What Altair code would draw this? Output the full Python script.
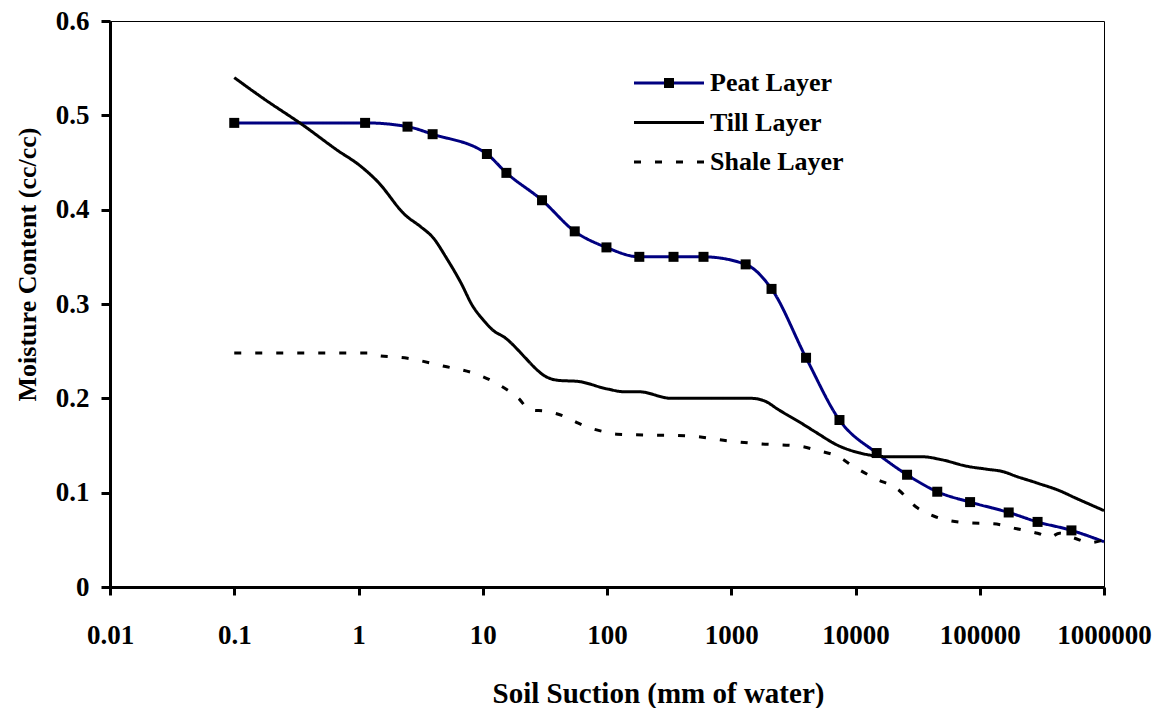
import altair as alt
import pandas as pd

# ---- data ----
peat_x = [0.1, 1.13, 2.48, 3.95, 10.8, 15.5, 30, 55, 99, 182, 343, 598, 1306, 2110,
          4000, 7430, 14800, 26000, 45500, 83600, 171000, 292000, 547000, 1000000]
peat_y = [0.492, 0.492, 0.488, 0.480, 0.459, 0.439, 0.410, 0.377, 0.360, 0.350, 0.350,
          0.350, 0.342, 0.316, 0.243, 0.177, 0.142, 0.119, 0.101, 0.090, 0.079, 0.069,
          0.060, 0.048]

till_x = [0.1, 0.171, 0.363, 0.675, 1.02, 1.42, 2.39, 3.16, 4.0, 5.09, 6.7, 8.2, 10.1,
          12, 15.2, 22, 25.5, 31.3, 41, 58, 100, 138, 180, 330, 1450, 1870, 2400, 3630,
          4800, 7240, 10900, 19000, 35000, 49000, 79000, 112000, 157000, 190000,
          293000, 440000, 575000, 1000000]
till_y = [0.540, 0.518, 0.489, 0.463, 0.447, 0.430, 0.394, 0.382, 0.370, 0.349, 0.322,
          0.299, 0.283, 0.2725, 0.264, 0.243, 0.234, 0.224, 0.219, 0.218, 0.210, 0.207,
          0.207, 0.200, 0.200, 0.197, 0.188, 0.174, 0.164, 0.150, 0.142, 0.138, 0.138,
          0.135, 0.128, 0.125, 0.122, 0.118, 0.110, 0.102, 0.095, 0.081]

shale_x = [0.1, 1.25, 1.34, 2.48, 4.9, 8.5, 13.7, 19.4, 23.8, 33.5, 47, 58, 68, 92, 120,
           470, 940, 1600, 3670, 4850, 7300, 9600, 14400, 21700, 30600, 43000, 80000,
           129000, 194000, 292000, 370000, 437000, 575000, 760000, 1000000]
shale_y = [0.248, 0.248, 0.246, 0.2425, 0.234, 0.2266, 0.214, 0.200, 0.188, 0.186, 0.180,
           0.174, 0.170, 0.165, 0.162, 0.160, 0.155, 0.152, 0.149, 0.145, 0.138, 0.128,
           0.115, 0.104, 0.085, 0.075, 0.068, 0.067, 0.062, 0.057, 0.053, 0.057, 0.052,
           0.047, 0.050]

series_names = ["Peat Layer", "Till Layer", "Shale Layer"]
series_colors = ["#000080", "#000000", "#000000"]
series_dashes = [[1, 0], [1, 0], [7, 14]]
x_ticks = [0.01, 0.1, 1, 10, 100, 1000, 10000, 100000, 1000000]
y_ticks = [0, 0.1, 0.2, 0.3, 0.4, 0.5, 0.6]

# ---- tables ----
df = pd.concat([
    pd.DataFrame({"series": series_names[0], "x": peat_x, "y": peat_y}),
    pd.DataFrame({"series": series_names[1], "x": till_x, "y": till_y}),
    pd.DataFrame({"series": series_names[2], "x": shale_x, "y": shale_y}),
], ignore_index=True)
peat_df = pd.DataFrame({"x": peat_x[:-1], "y": peat_y[:-1]})
legend_df = pd.DataFrame({"series": series_names})

FONT = "Liberation Serif"

color_enc = alt.Color("series:N", scale=alt.Scale(domain=series_names, range=series_colors), legend=None)
dash_enc = alt.StrokeDash("series:N", scale=alt.Scale(domain=series_names, range=series_dashes), legend=None)

x_scale = alt.Scale(type="log", domain=[0.01, 1000000])
y_scale = alt.Scale(domain=[0, 0.6])

x_enc = alt.X("x:Q", scale=x_scale,
              axis=alt.Axis(values=x_ticks, format="~f", title="Soil Suction (mm of water)",
                            titleX=548, titleY=115, titleAlign="center", titleFontSize=29,
                            titleBaseline="alphabetic", labelPadding=27, tickSize=8))
y_enc = alt.Y("y:Q", scale=y_scale,
              axis=alt.Axis(values=y_ticks, format="~g", title="Moisture Content (cc/cc)",
                            titleX=-75, titleY=243, titleAlign="center", titleFontSize=26,
                            titleBaseline="alphabetic", labelPadding=12, tickSize=9))

lines = alt.Chart(df).mark_line(strokeWidth=3, interpolate="monotone").encode(
    x=x_enc, y=y_enc, color=color_enc, strokeDash=dash_enc, detail="series:N"
)
markers = alt.Chart(peat_df).mark_square(size=100, color="black", opacity=1).encode(
    x=alt.X("x:Q", scale=x_scale),
    y=alt.Y("y:Q", scale=y_scale, axis=None),
)

leg_y = alt.Y("series:N", scale=alt.Scale(type="point", domain=series_names, range=[62, 141], padding=0), axis=None)
leg_lines = alt.Chart(legend_df).mark_rule(strokeWidth=3).encode(
    x=alt.value(524), x2=alt.value(594), y=leg_y, color=color_enc, strokeDash=dash_enc
)
leg_marker = alt.Chart(legend_df).transform_filter(
    alt.datum.series == series_names[0]
).mark_square(size=100, color="black", opacity=1).encode(x=alt.value(559), y=leg_y)
leg_text = alt.Chart(legend_df).mark_text(
    align="left", baseline="middle", font=FONT, fontWeight="bold", fontSize=26, color="black"
).encode(x=alt.value(600), y=leg_y, text="series:N")

chart = alt.layer(lines, markers, leg_lines, leg_marker, leg_text).resolve_scale(
    y="independent"
).properties(
    width=994, height=566,
    autosize=alt.AutoSizeParams(type="none"),
    padding={"left": 110, "top": 21, "right": 54, "bottom": 121},
    background="white",
).configure_view(
    stroke="black", strokeWidth=1
).configure_axis(
    grid=False, domainColor="black", domainWidth=3, tickColor="black", tickWidth=3,
    labelFont=FONT, labelFontWeight="bold", labelFontSize=27, labelColor="black",
    titleFont=FONT, titleFontWeight="bold", titleFontSize=28, titleColor="black",
    labelOverlap=False, labelFlush=False
)

chart.save("out.html", embed_options={"renderer": "svg", "actions": False})
